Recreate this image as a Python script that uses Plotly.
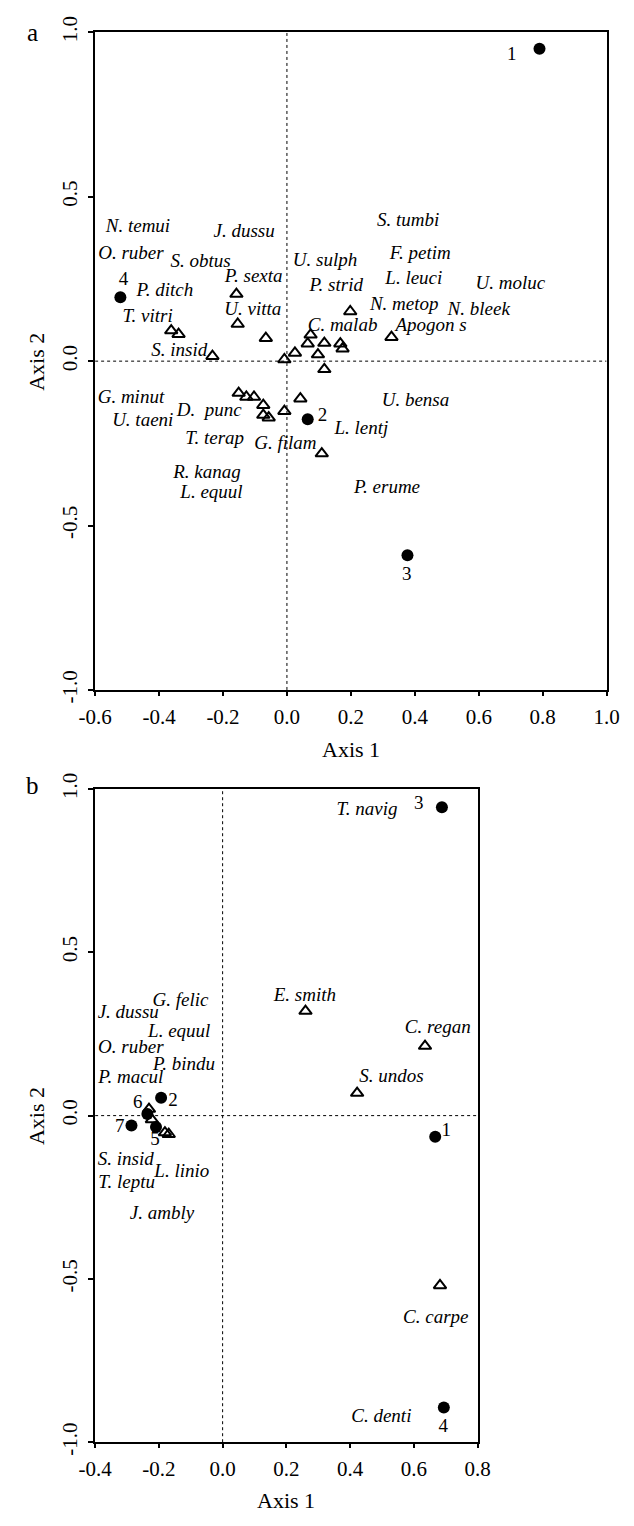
import plotly.graph_objects as go

# ---------------- Panel a data ----------------
a_site_lab = ["1", "2", "3", "4"]
a_site_x = [0.790, 0.065, 0.377, -0.521]
a_site_y = [0.950, -0.177, -0.590, 0.194]
a_site_lab_x = [0.703, 0.111, 0.375, -0.511]
a_site_lab_y = [0.930, -0.169, -0.650, 0.246]

a_tri_x = [-0.158, -0.154, -0.066, -0.362, -0.339, -0.233, -0.008, 0.025, 0.065,
           0.074, 0.117, 0.097, 0.117, 0.167, 0.174, 0.198, 0.327, -0.151,
           -0.127, -0.103, -0.074, -0.074, -0.057, -0.008, 0.042, 0.109]
a_tri_y = [0.204, 0.113, 0.070, 0.093, 0.082, 0.015, 0.005, 0.025, 0.053,
           0.080, 0.055, 0.020, -0.025, 0.053, 0.038, 0.151, 0.073, -0.097,
           -0.109, -0.109, -0.134, -0.164, -0.172, -0.152, -0.114, -0.281]

a_sp_names = ["N. temui", "O. ruber", "P. ditch", "T. vitri", "S. insid", "J. dussu",
              "S. obtus", "P. sexta", "U. vitta", "U. sulph", "S. tumbi", "F. petim",
              "P. strid", "L. leuci", "U. moluc", "N. metop", "N. bleek", "C. malab",
              "Apogon s", "G. minut", "U. taeni", "D.  punc", "T. terap", "G. filam",
              "R. kanag", "L. equul", "U. bensa", "L. lentj", "P. erume"]
a_sp_x = [-0.466, -0.488, -0.382, -0.436, -0.337, -0.134, -0.270, -0.104, -0.107,
          0.119, 0.379, 0.417, 0.154, 0.397, 0.699, 0.367, 0.600, 0.174, 0.451,
          -0.488, -0.451, -0.243, -0.226, -0.005, -0.250, -0.236, 0.402, 0.233, 0.313]
a_sp_y = [0.408, 0.324, 0.214, 0.132, 0.030, 0.391, 0.302, 0.256, 0.154,
          0.304, 0.425, 0.325, 0.229, 0.248, 0.234, 0.169, 0.154, 0.107, 0.107,
          -0.112, -0.184, -0.152, -0.239, -0.252, -0.341, -0.403, -0.121, -0.206, -0.388]

# ---------------- Panel b data ----------------
b_site_lab = ["1", "2", "3", "4", "5", "6", "7"]
b_site_x = [0.667, -0.193, 0.688, 0.694, -0.209, -0.236, -0.286]
b_site_y = [-0.065, 0.055, 0.944, -0.894, -0.035, 0.005, -0.030]
b_site_lab_x = [0.702, -0.156, 0.615, 0.692, -0.212, -0.266, -0.323]
b_site_lab_y = [-0.049, 0.043, 0.954, -0.955, -0.074, 0.038, -0.037]

b_tri_x = [0.260, 0.635, 0.422, 0.682, -0.181, -0.169, -0.231, -0.222]
b_tri_y = [0.320, 0.213, 0.069, -0.520, -0.052, -0.057, 0.020, -0.012]

b_sp_names = ["G. felic", "J. dussu", "L. equul", "O. ruber", "P. bindu", "P. macul",
              "S. insid", "L. linio", "T. leptu", "J. ambly", "E. smith", "T. navig",
              "C. regan", "S. undos", "C. carpe", "C. denti"]
b_sp_x = [-0.132, -0.296, -0.136, -0.288, -0.121, -0.288, -0.304, -0.128, -0.301,
          -0.190, 0.258, 0.453, 0.675, 0.530, 0.669, 0.498]
b_sp_y = [0.350, 0.312, 0.255, 0.205, 0.153, 0.113, -0.138, -0.174, -0.207,
          -0.303, 0.365, 0.936, 0.268, 0.118, -0.619, -0.925]

# ---------------- Axis ticks ----------------
a_xticks = [-0.6, -0.4, -0.2, 0.0, 0.2, 0.4, 0.6, 0.8, 1.0]
b_xticks = [-0.4, -0.2, 0.0, 0.2, 0.4, 0.6, 0.8]
yticks = [-1.0, -0.5, 0.0, 0.5, 1.0]


def fmt(v):
    return f"{v:.1f}"


SERIF = "Liberation Serif, Times New Roman, serif"
PAGE_MARGIN = 8          # default body margin of the html page
W, H = 634 - 2 * PAGE_MARGIN, 1526 - 2 * PAGE_MARGIN


def px_x(p):             # page pixel -> paper fraction
    return (p - PAGE_MARGIN) / W


def px_y(p):
    return 1 - (p - PAGE_MARGIN) / H


fig = go.Figure()


def add_panel(xa, ya, tx, ty, sx, sy, slx, sly, slab, spx, spy, spn):
    fig.add_trace(go.Scatter(
        x=tx, y=ty, mode="markers", xaxis=xa, yaxis=ya, showlegend=False,
        marker=dict(symbol="triangle-up-open", size=11, color="black",
                    line=dict(width=2, color="black")),
        hoverinfo="skip"))
    fig.add_trace(go.Scatter(
        x=sx, y=sy, mode="markers", xaxis=xa, yaxis=ya, showlegend=False,
        marker=dict(symbol="circle", size=12, color="black"),
        hoverinfo="skip"))
    fig.add_trace(go.Scatter(
        x=slx, y=sly, text=slab, mode="text", xaxis=xa, yaxis=ya, showlegend=False,
        textposition="middle center",
        textfont=dict(family=SERIF, size=19, color="black"),
        hoverinfo="skip"))
    fig.add_trace(go.Scatter(
        x=spx, y=spy, text=spn, mode="text", xaxis=xa, yaxis=ya, showlegend=False,
        textposition="middle center",
        textfont=dict(family=SERIF, size=19, color="black", style="italic"),
        hoverinfo="skip"))


add_panel("x", "y", a_tri_x, a_tri_y, a_site_x, a_site_y, a_site_lab_x, a_site_lab_y,
          a_site_lab, a_sp_x, a_sp_y, a_sp_names)
add_panel("x2", "y2", b_tri_x, b_tri_y, b_site_x, b_site_y, b_site_lab_x, b_site_lab_y,
          b_site_lab, b_sp_x, b_sp_y, b_sp_names)

xd1 = [px_x(81.7), px_x(619.3)]
xd2 = [px_x(81.7), px_x(483.7)]
yd1 = [px_y(687), px_y(16.5)]
yd2 = [px_y(1454), px_y(788)]

tickfont = dict(family=SERIF, size=21, color="black")


def xaxis(domain, rng, ticks, anchor):
    return dict(domain=domain, range=rng, anchor=anchor, tickvals=ticks,
                ticktext=[fmt(t) for t in ticks], ticks="outside", ticklen=4,
                tickwidth=2, tickcolor="black", showline=True, linewidth=2,
                linecolor="black", mirror=True, showgrid=False, zeroline=False,
                tickfont=tickfont, ticklabelstandoff=3, fixedrange=True)


def yaxis(domain, anchor):
    return dict(domain=domain, range=[-1, 1], anchor=anchor, tickvals=yticks,
                ticktext=[fmt(t) for t in yticks], ticks="outside", ticklen=5,
                tickwidth=2, tickcolor="black", showline=True, linewidth=2,
                linecolor="black", mirror=True, showgrid=False, zeroline=False,
                tickfont=tickfont, tickangle=-90, ticklabelstandoff=3,
                fixedrange=True)


def inner_x(rng, ticks, over, anchor):
    return dict(range=rng, overlaying=over, anchor=anchor, tickvals=ticks,
                ticks="inside", ticklen=3, tickwidth=2, tickcolor="black",
                showticklabels=False, showline=False, showgrid=False, zeroline=False,
                fixedrange=True)


def inner_y(over, anchor):
    return dict(range=[-1, 1], overlaying=over, anchor=anchor, tickvals=yticks,
                ticks="inside", ticklen=3, tickwidth=2, tickcolor="black",
                showticklabels=False, showline=False, showgrid=False, zeroline=False,
                fixedrange=True)


shapes = []
for xr, yr, xr_rng in [("x", "y", [-0.6, 1.0]), ("x2", "y2", [-0.4, 0.8])]:
    shapes.append(dict(type="line", xref=xr, yref=yr, x0=0, x1=0, y0=-1, y1=1,
                       line=dict(color="black", width=1, dash="dot")))
    shapes.append(dict(type="line", xref=xr, yref=yr, x0=xr_rng[0], x1=xr_rng[1],
                       y0=0, y1=0, line=dict(color="black", width=1, dash="dot")))

titlefont = dict(family=SERIF, size=22, color="black")


def ann(text, x, y, size_font, angle=0):
    return dict(text=text, x=px_x(x), y=px_y(y), xref="paper", yref="paper",
                xanchor="center", yanchor="middle", showarrow=False,
                textangle=angle, font=size_font)


annotations = [
    ann("a", 16, 17, dict(family=SERIF, size=25, color="black")),
    ann("b", 16, 784, dict(family=SERIF, size=25, color="black")),
    ann("Axis 1", 350.5, 748, titlefont),
    ann("Axis 1", 282.7, 1513, titlefont),
    ann("Axis 2", 20, 352, titlefont, -90),
    ann("Axis 2", 20, 1121, titlefont, -90),
]

fig.update_layout(
    width=W, height=H, autosize=False,
    margin=dict(l=0, r=0, t=0, b=0),
    paper_bgcolor="white", plot_bgcolor="white",
    xaxis=xaxis(xd1, [-0.6, 1.0], a_xticks, "y"),
    yaxis=yaxis(yd1, "x"),
    xaxis2=xaxis(xd2, [-0.4, 0.8], b_xticks, "y2"),
    yaxis2=yaxis(yd2, "x2"),
    xaxis3=inner_x([-0.6, 1.0], a_xticks, "x", "y"),
    yaxis3=inner_y("y", "x"),
    xaxis4=inner_x([-0.4, 0.8], b_xticks, "x2", "y2"),
    yaxis4=inner_y("y2", "x2"),
    shapes=shapes,
    annotations=annotations,
    showlegend=False,
)

fig.write_html("out.html")
